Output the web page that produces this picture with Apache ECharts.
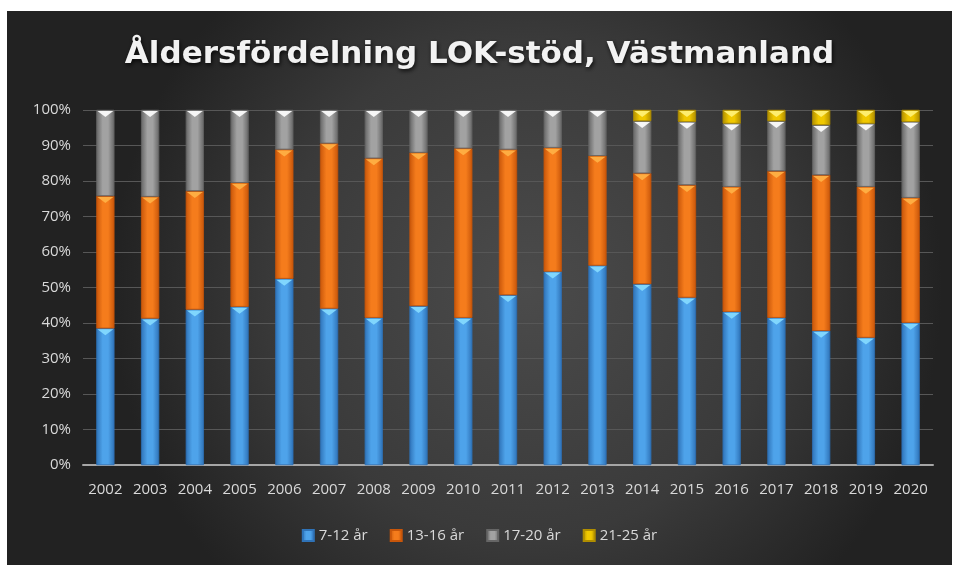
<!DOCTYPE html>
<html>
<head>
<meta charset="utf-8">
<script src="https://cdn.jsdelivr.net/npm/echarts@6/dist/echarts.min.js"></script>
<style>
  html, body { margin: 0; padding: 0; background: #fff; }
  #chart { position: absolute; left: 7px; top: 11px; width: 945px; height: 554px; }
</style>
</head>
<body>
<div id="chart"></div>
<script>
// år på x-axeln
const years = ["2002", "2003", "2004", "2005", "2006", "2007", "2008", "2009", "2010", "2011",
  "2012", "2013", "2014", "2015", "2016", "2017", "2018", "2019", "2020"];

// andel per åldersgrupp, i procent
const age7_12 = [38.5, 41.3, 43.8, 44.6, 52.5, 44.1, 41.5, 44.8, 41.5, 47.9, 54.5, 56.2, 51.0, 47.2, 43.2, 41.5, 37.8, 35.9, 40.1];
const age13_16 = [37.3, 34.3, 33.4, 34.9, 36.4, 46.5, 44.9, 43.2, 47.7, 41.0, 34.9, 30.9, 31.2, 31.7, 35.2, 41.3, 43.9, 42.5, 35.2];
const age17_20 = [24.2, 24.4, 22.8, 20.5, 11.1, 9.4, 13.6, 12.0, 10.8, 11.1, 10.6, 12.9, 14.7, 17.8, 17.8, 14.1, 14.1, 17.8, 21.4];
const age21_25 = [0, 0, 0, 0, 0, 0, 0, 0, 0, 0, 0, 0, 3.1, 3.3, 3.8, 3.1, 4.2, 3.8, 3.3];

const seriesNames = ["7-12 år", "13-16 år", "17-20 år", "21-25 år"];
const seriesData = [age7_12, age13_16, age17_20, age21_25];

const yTicks = [0, 10, 20, 30, 40, 50, 60, 70, 80, 90, 100];

// färger: kant, mitt, trekant
const färger = [
  { kant: "#2f73b8", mitt: "#4ea3ea", topp: "#86dcff" },
  { kant: "#c8560a", mitt: "#f57c1c", topp: "#ffb347" },
  { kant: "#666666", mitt: "#a2a2a2", topp: "#ffffff" },
  { kant: "#b08e00", mitt: "#f0c800", topp: "#fff27a" },
];

function barGradient(f) {
  return new echarts.graphic.LinearGradient(0, 0, 1, 0, [
    { offset: 0, color: f.kant },
    { offset: 0.35, color: f.mitt },
    { offset: 0.65, color: f.mitt },
    { offset: 1, color: f.kant },
  ]);
}

// trekanter överst i varje segment
const trekantData = [];
years.forEach((år, i) => {
  let summa = 0;
  seriesData.forEach((serie, s) => {
    summa += serie[i];
    if (serie[i] > 0) trekantData.push([i, summa, s]);
  });
});

const chart = echarts.init(document.getElementById("chart"));

const bars = seriesData.map((data, s) => ({
  name: seriesNames[s],
  type: "bar",
  stack: "andel",
  barWidth: "40%",
  // tomma värden ritas inte alls
  data: data.map((v) => (v > 0 ? v : "-")),
  itemStyle: {
    color: barGradient(färger[s]),
    borderColor: färger[s].kant,
    borderWidth: 0.5,
  },
  emphasis: { disabled: true },
}));

const option = {
  backgroundColor: new echarts.graphic.RadialGradient(0.55, 0.5, 0.75, [
    { offset: 0, color: "#4b4b4b" },
    { offset: 0.6, color: "#3a3a3a" },
    { offset: 1, color: "#222222" },
  ]),
  title: {
    text: "Åldersfördelning LOK-stöd, Västmanland",
    left: "center",
    top: 23,
    textStyle: {
      color: "#f2f2f2",
      fontFamily: "DejaVu Sans",
      fontWeight: "bold",
      fontSize: 31,
      textShadowColor: "rgba(0,0,0,0.8)",
      textShadowBlur: 4,
      textShadowOffsetX: 1,
      textShadowOffsetY: 2,
    },
  },
  legend: {
    data: seriesNames,
    bottom: 17,
    left: "center",
    itemWidth: 11,
    itemHeight: 11,
    itemGap: 22,
    icon: "rect",
    textStyle: { color: "#d9d9d9", fontSize: 15, fontFamily: "Open Sans" },
  },
  grid: { left: 76, right: 19, top: 99, bottom: 100 },
  xAxis: {
    type: "category",
    data: years,
    axisLine: { lineStyle: { color: "#a6a6a6", width: 2 } },
    axisTick: { show: false },
    axisLabel: { color: "#d9d9d9", fontSize: 15, margin: 17, fontFamily: "Open Sans" },
  },
  yAxis: {
    type: "value",
    min: yTicks[0],
    max: yTicks[yTicks.length - 1],
    interval: 10,
    axisLabel: { color: "#d9d9d9", fontSize: 15, margin: 12, formatter: "{value}%", fontFamily: "Open Sans" },
    axisLine: { show: false },
    axisTick: { show: false },
    splitLine: { lineStyle: { color: "#575757", width: 1 } },
  },
  series: bars.concat([{
    type: "custom",
    silent: true,
    data: trekantData,
    encode: { x: 0, y: 1 },
    z: 5,
    renderItem: function (params, api) {
      const punkt = api.coord([api.value(0), api.value(1)]);
      const bredd = api.size([1, 0])[0] * 0.4;
      const s = api.value(2);
      const x0 = punkt[0] - bredd / 2 + 1;
      const x1 = punkt[0] + bredd / 2 - 1;
      return {
        type: "polygon",
        shape: { points: [[x0, punkt[1] + 1], [x1, punkt[1] + 1], [punkt[0], punkt[1] + 7]] },
        style: { fill: färger[s].topp, opacity: 0.9 },
      };
    },
  }]),
};

chart.setOption(option);
</script>
</body>
</html>
